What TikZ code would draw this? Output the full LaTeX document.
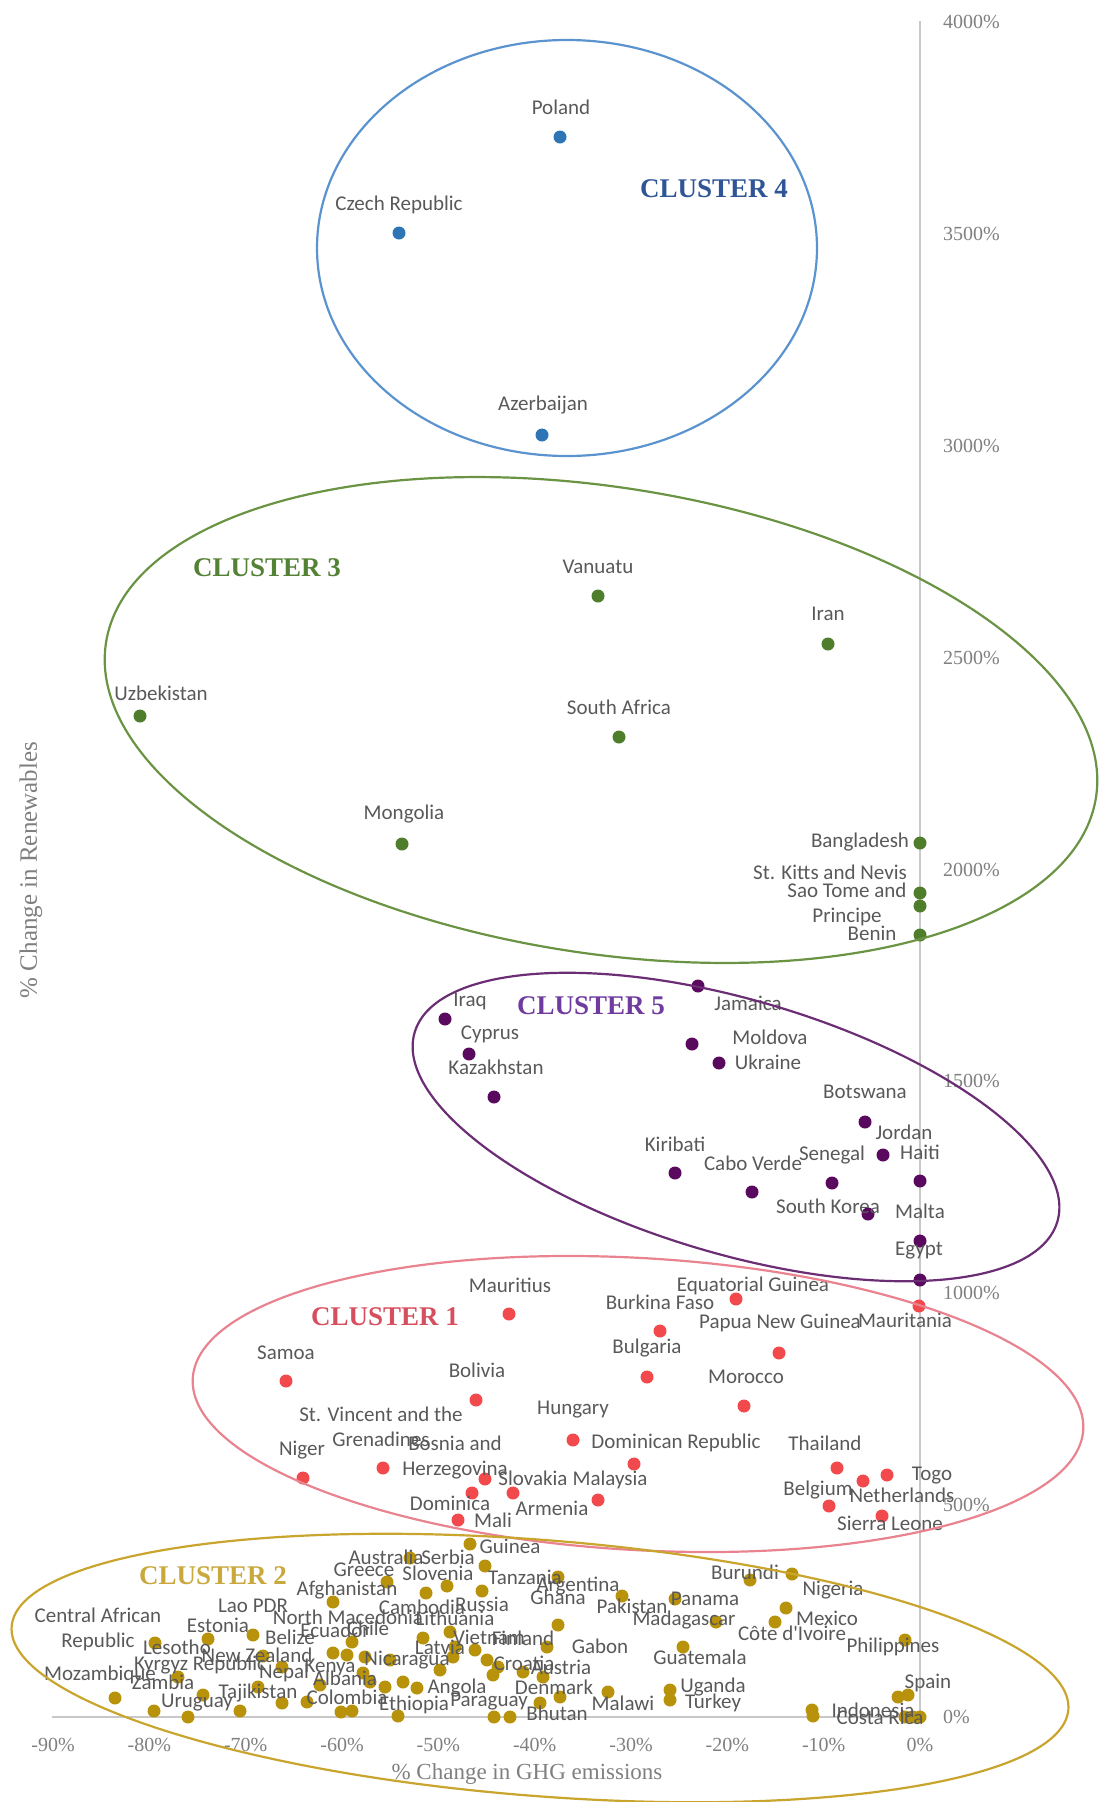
\documentclass[tikz,border=0pt]{standalone}
\usepackage{fontspec}
\setmainfont{Liberation Serif}
\newfontfamily\lblfont{Carlito}
\definecolor{labgray}{HTML}{595959}
\definecolor{tickgray}{HTML}{7F7F7F}
\definecolor{axgray}{HTML}{C8C8C8}
\definecolor{dotfour}{HTML}{2E75B6}
\definecolor{rimfour}{HTML}{5B93CF}
\definecolor{txtfour}{HTML}{2F5597}
\definecolor{dotthree}{HTML}{4E7D2B}
\definecolor{rimthree}{HTML}{6A9443}
\definecolor{txtthree}{HTML}{548235}
\definecolor{dotfive}{HTML}{5A0A5E}
\definecolor{rimfive}{HTML}{6B2D74}
\definecolor{txtfive}{HTML}{6F3B9E}
\definecolor{dotone}{HTML}{F24A4C}
\definecolor{rimone}{HTML}{E8838F}
\definecolor{txtone}{HTML}{D64F5E}
\definecolor{dottwo}{HTML}{B8920A}
\definecolor{rimtwo}{HTML}{C9A52E}
\definecolor{txttwo}{HTML}{C9A83C}
\tikzset{cdot/.style={circle,fill=#1,inner sep=0pt,minimum size=13pt}}
\tikzset{lbl/.style={font=\lblfont\fontsize{21}{25}\selectfont,text=labgray,inner sep=0pt,align=center}}
\tikzset{ctitle/.style={font=\bfseries\fontsize{27}{30}\selectfont,text=#1,inner sep=0pt}}
\tikzset{ticklbl/.style={font=\fontsize{20}{22}\selectfont,text=tickgray,inner sep=0pt}}
\tikzset{rim/.style={draw=#1,line width=2.2pt}}
\tikzset{axisline/.style={draw=axgray,line width=2pt}}

\begin{document}
\begin{tikzpicture}[x=1pt,y=-1pt]
  \useasboundingbox (0,0) rectangle (1098,1802);
  % draw the axis
  \coordinate (ytop) at (920,21);
  \coordinate (ybot) at (920,1722);
  \coordinate (xleft) at (52,1717);
  \coordinate (xright) at (920,1717);
  \draw[axisline] (ytop) -- (ybot);
  \draw[axisline] (xleft) -- (xright);
  \foreach \v [count=\i from 0] in {0,500,...,4000}
    \node[ticklbl,anchor=west] (yt\i) at (943,{1717-0.42375*\v}) {\v\%};
  \foreach \p [count=\i] in {-90,-80,...,0}
    \node[ticklbl] (xt\i) at ({920+9.633*\p},1745) {\p\%};
  \node[ticklbl,font=\fontsize{23}{25}\selectfont] (xtitle) at (527,1774) {\% Change in GHG emissions};
  \node[ticklbl,font=\fontsize{25}{27}\selectfont,rotate=90] (ytitle) at (31,870) {\% Change in Renewables};
  % cluster 4
  \foreach \x/\y [count=\i] in {560/137,399/233,542/435}
    \node[cdot=dotfour] (d4-\i) at (\x,\y) {};
  \foreach \x/\y/\t [count=\i] in {561/107/Poland,399/205/Czech Republic,543/405/Azerbaijan}
    \node[lbl] (l4-\i) at (\x,\y) {\t};
  % cluster 3
  \foreach \x/\y [count=\i] in {598/596,828/644,140/716,619/737,402/844,920/843,920/893,920/906,920/935}
    \node[cdot=dotthree] (d3-\i) at (\x,\y) {};
  \foreach \x/\y/\t [count=\i] in {598/567/Vanuatu,828/614/Iran,161/693/Uzbekistan,619/707/South Africa,
      404/814/Mongolia,860/842/Bangladesh,830/872/St. Kitts and Nevis,847/904/{Sao Tome and\\Principe},872/933/Benin}
    \node[lbl] (l3-\i) at (\x,\y) {\t};
  % cluster 5
  \foreach \x/\y [count=\i] in {445/1019,469/1054,494/1097,698/986,692/1044,719/1063,865/1122,883/1155,
      920/1181,675/1173,752/1192,832/1183,868/1214,920/1241,920/1280}
    \node[cdot=dotfive] (d5-\i) at (\x,\y) {};
  \foreach \x/\y/\t [count=\i] in {470/1001/Iraq,490/1034/Cyprus,496/1067/Kazakhstan,748/1003/Jamaica,
      770/1037/Moldova,768/1062/Ukraine,865/1092/Botswana,904/1132/Jordan,920/1152/Haiti,675/1144/Kiribati,
      753/1163/Cabo Verde,832/1155/Senegal,828/1206/South Korea,920/1211/Malta,919/1251/Egypt}
    \node[lbl] (l5-\i) at (\x,\y) {\t};
  % cluster 1
  \foreach \x/\y [count=\i] in {509/1314,736/1299,660/1331,919/1306,779/1353,647/1377,286/1381,744/1406,
      476/1400,573/1440,383/1468,634/1464,837/1468,303/1478,485/1479,513/1493,598/1500,472/1493,
      458/1520,887/1475,863/1481,829/1506,882/1516}
    \node[cdot=dotone] (d1-\i) at (\x,\y) {};
  \foreach \x/\y/\t [count=\i] in {510/1285/Mauritius,753/1286/Equatorial Guinea,660/1302/Burkina Faso,
      905/1320/Mauritania,780/1323/Papua New Guinea,647/1348/Bulgaria,286/1353/Samoa,746/1377/Morocco,
      477/1370/Bolivia,573/1410/Hungary,381/1427/{St. Vincent and the\\Grenadines},676/1443/Dominican Republic,
      825/1443/Thailand,302/1450/Niger,455/1457/{Bosnia and\\Herzegovina},533/1478/Slovakia,610/1480/Malaysia,
      552/1508/Armenia,450/1503/Dominica,493/1520/Mali,932/1476/Togo,902/1495/Netherlands,818/1490/Belgium,
      890/1523/Sierra Leone}
    \node[lbl] (l1-\i) at (\x,\y) {\t};
  % cluster 2
  \foreach \x/\y [count=\i] in {115/1698,154/1711,188/1717,203/1695,240/1711,258/1687,282/1703,155/1643,
      208/1639,253/1635,263/1656,282/1667,178/1677,307/1702,320/1685,333/1602,333/1653,347/1655,352/1642,
      341/1712,352/1711,363/1673,365/1657,470/1544,410/1558,485/1566,558/1577,387/1582,426/1593,447/1586,
      482/1591,622/1596,675/1599,390/1660,423/1638,450/1632,455/1647,453/1657,475/1650,487/1660,498/1667,
      493/1675,523/1672,547/1647,543/1677,560/1697,558/1625,440/1670,370/1682,385/1687,403/1682,417/1688,
      398/1716,494/1717,510/1717,540/1703,608/1692,670/1690,670/1700,750/1580,792/1574,786/1608,775/1622,
      716/1622,683/1647,905/1640,898/1697,908/1695,812/1710,813/1716,905/1717,913/1717,920/1717}
    \node[cdot=dottwo] (d2-\i) at (\x,\y) {};
  \foreach \x/\y/\t [count=\i] in {510/1546/Guinea,386/1557/Australia,448/1557/Serbia,364/1570/Greece,
      438/1573/Slovenia,525/1577/Tanzania,347/1590/Afghanistan,578/1586/Argentina,558/1597/Ghana,
      745/1572/Burundi,833/1590/Nigeria,705/1599/Panama,632/1606/Pakistan,253/1606/Lao PDR,
      422/1607/Cambodia,482/1604/Russia,98/1629/{Central African\\Republic},348/1617/North Macedonia,
      455/1618/Lithuania,684/1620/Madagascar,827/1618/Mexico,218/1625/Estonia,335/1630/Ecuador,
      368/1628/Chile,290/1637/Belize,489/1637/Vietnam,523/1638/Finland,792/1633/Côte d'Ivoire,
      177/1647/Lesotho,440/1647/Latvia,600/1646/Gabon,893/1647/Philippines,257/1655/New Zealand,
      700/1657/Guatemala,407/1660/Nicaragua,524/1663/Croatia,200/1665/Kyrgyz Republic,330/1667/Kenya,
      561/1667/Austria,100/1675/Mozambique,284/1673/Nepal,345/1678/Albania,163/1682/Zambia,928/1683/Spain,
      457/1688/Angola,554/1687/Denmark,713/1687/Uganda,258/1693/Tajikistan,347/1697/Colombia,
      197/1703/Uruguay,414/1705/Ethiopia,489/1702/Paraguay,623/1703/Malawi,713/1703/Turkey,
      873/1710/Indonesia,557/1713/Bhutan,880/1717/Costa Rica}
    \node[lbl] (l2-\i) at (\x,\y) {\t};
  % the cluster rims and titles
  \draw[rim=rimfour] (567,248) ellipse [x radius=250pt,y radius=208pt];
  \draw[rim=rimthree,rotate around={-8.9:(601,720)}] (601,720) ellipse [x radius=501pt,y radius=233pt];
  \draw[rim=rimfive,rotate around={-16.4:(736,1127)}] (736,1127) ellipse [x radius=335pt,y radius=127pt];
  \draw[rim=rimone,rotate around={-3.3:(638,1404)}] (638,1404) ellipse [x radius=446pt,y radius=146pt];
  \draw[rim=rimtwo,rotate around={-4.5:(540,1668)}] (540,1668) ellipse [x radius=530pt,y radius=128pt];
  \node[ctitle=txtfour] (c4) at (714,189) {CLUSTER 4};
  \node[ctitle=txtthree] (c3) at (267,568) {CLUSTER 3};
  \node[ctitle=txtfive] (c5) at (591,1006) {CLUSTER 5};
  \node[ctitle=txtone] (c1) at (385,1317) {CLUSTER 1};
  \node[ctitle=txttwo] (c2) at (213,1576) {CLUSTER 2};
\end{tikzpicture}
\end{document}
